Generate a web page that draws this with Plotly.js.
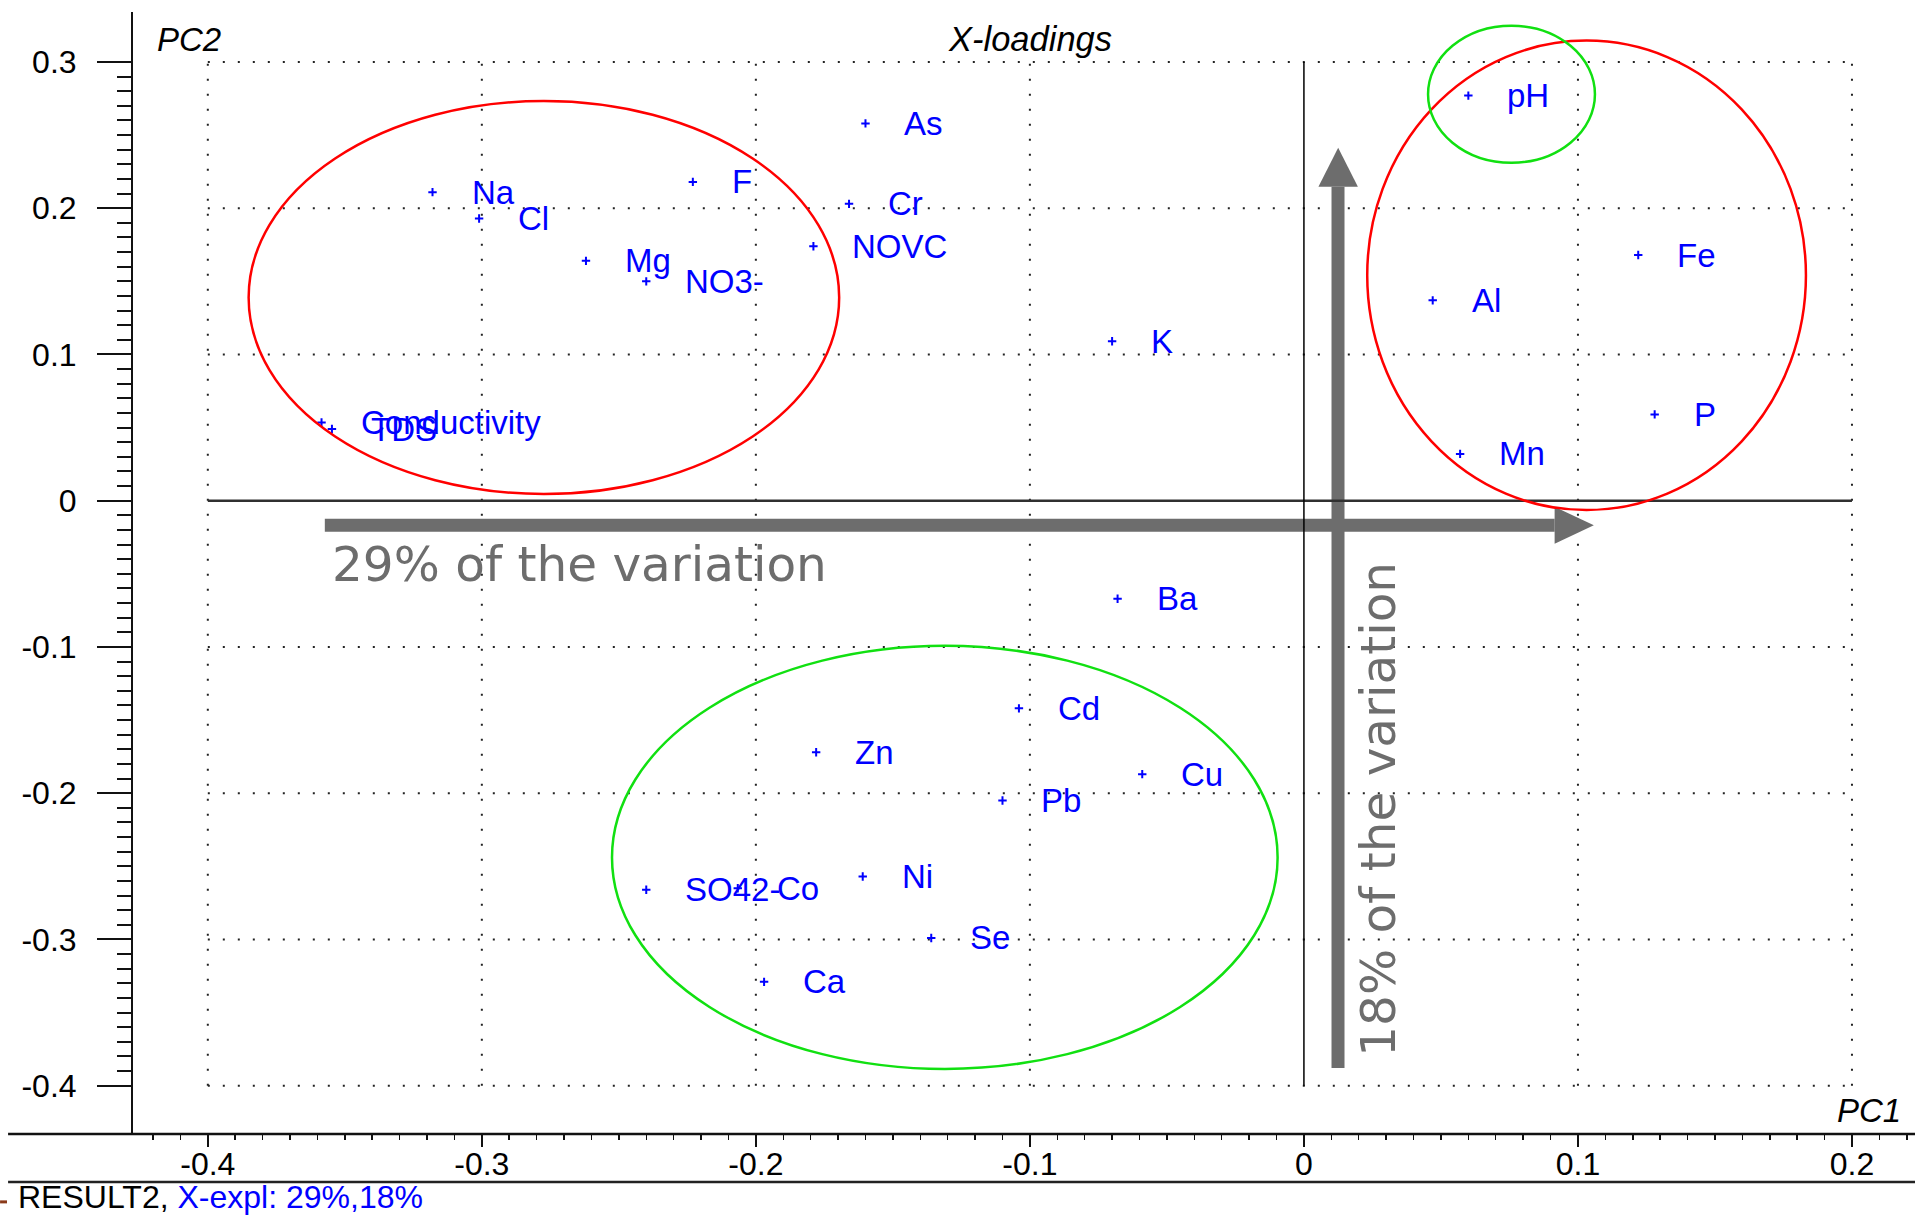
<!DOCTYPE html>
<html>
<head>
<meta charset="utf-8">
<script src="https://cdn.plot.ly/plotly-3.0.1.min.js"></script>
<style>
html,body{margin:0;padding:0;background:#ffffff;}
#chart{width:1915px;height:1218px;}
</style>
</head>
<body>
<div id="chart"></div>
<script>
// ---- data: PCA X-loadings (PC1, PC2) ----
const variables = ['Na','Cl','F','Mg','NO3-','NOVC','Cr','As','Conductivity','TDS','K','Ba','pH','Fe','Al','P','Mn','Cd','Zn','Cu','Pb','Ni','SO42-','Co','Se','Ca'];
const pc1 = [-0.318,-0.301,-0.223,-0.262,-0.240,-0.179,-0.166,-0.160,-0.3585,-0.3547,-0.070,-0.068,0.060,0.122,0.047,0.128,0.057,-0.104,-0.178,-0.059,-0.110,-0.161,-0.240,-0.2066,-0.136,-0.197];
const pc2 = [0.211,0.193,0.218,0.164,0.150,0.174,0.203,0.258,0.0535,0.049,0.109,-0.067,0.277,0.168,0.137,0.059,0.032,-0.142,-0.172,-0.187,-0.205,-0.257,-0.266,-0.265,-0.299,-0.329];

const xTicks = [-0.4,-0.3,-0.2,-0.1,0,0.1,0.2];
const xTickText = ['-0.4','-0.3','-0.2','-0.1','0','0.1','0.2'];
const yTicks = [-0.4,-0.3,-0.2,-0.1,0,0.1,0.2,0.3];
const yTickText = ['-0.4','-0.3','-0.2','-0.1','0','0.1','0.2','0.3'];

const explainedPC1 = '29%';
const explainedPC2 = '18%';

// ---- styling ----
const BLUE = '#0000ff';
const GRAY = '#6d6d6d';
const FONT = 'Liberation Sans, Arial, sans-serif';
const BIGFONT = 'DejaVu Sans, Verdana, sans-serif';

const xRange = [-0.4273, 0.2230];
const yRange = [-0.43305, 0.33417];

// minor ticks (axis decoration)
const yMinor = [];
for (let i = -39; i <= 29; i++) { if (i % 10 !== 0) yMinor.push(i / 100); }

const shapes = [];
// dotted grid
xTicks.filter(v => v !== 0).forEach(v => shapes.push({
  type:'line', xref:'x', yref:'y', x0:v, x1:v, y0:-0.4, y1:0.3, layer:'below',
  line:{color:'#222', width:2, dash:'2px,13px'}
}));
yTicks.filter(v => v !== 0).forEach(v => shapes.push({
  type:'line', xref:'x', yref:'y', x0:-0.4, x1:0.2, y0:v, y1:v, layer:'below',
  line:{color:'#222', width:2, dash:'2px,13px'}
}));
// gray arrows
shapes.push({type:'line', xref:'x', yref:'y', x0:-0.3573, x1:0.0915, y0:-0.0168, y1:-0.0168, layer:'above', line:{color:GRAY, width:13}});
shapes.push({type:'path', xref:'x', yref:'y', layer:'above', fillcolor:GRAY, line:{color:GRAY, width:0},
  path:'M 0.0915,-0.0042 L 0.1058,-0.0168 L 0.0915,-0.0295 Z'});
shapes.push({type:'line', xref:'x', yref:'y', x0:0.01244, x1:0.01244, y0:-0.3879, y1:0.2147, layer:'above', line:{color:GRAY, width:13}});
shapes.push({type:'path', xref:'x', yref:'y', layer:'above', fillcolor:GRAY, line:{color:GRAY, width:0},
  path:'M 0.0053,0.2147 L 0.0125,0.2414 L 0.0197,0.2147 Z'});
// zero lines
shapes.push({type:'line', xref:'x', yref:'y', x0:-0.4, x1:0.2, y0:0, y1:0, layer:'above', line:{color:'#303030', width:2.5}});
shapes.push({type:'line', xref:'x', yref:'y', x0:0, x1:0, y0:-0.4, y1:0.3, layer:'above', line:{color:'#000', width:1.5}});
// grouping ellipses
shapes.push({type:'circle', xref:'x', yref:'y', x0:-0.3851, x1:-0.1696, y0:0.0046, y1:0.2733, layer:'above', line:{color:'#ff0000', width:2.5}});
shapes.push({type:'circle', xref:'x', yref:'y', x0:0.0231, x1:0.1832, y0:-0.0064, y1:0.3146, layer:'above', line:{color:'#ff0000', width:2.5}});
shapes.push({type:'circle', xref:'x', yref:'y', x0:0.0453, x1:0.1062, y0:0.2311, y1:0.3248, layer:'above', line:{color:'#11e011', width:2.5}});
shapes.push({type:'circle', xref:'x', yref:'y', x0:-0.2525, x1:-0.0096, y0:-0.3886, y1:-0.0992, layer:'above', line:{color:'#11e011', width:2.5}});
// frame lines (bottom axis line across the full width and footer separator)
shapes.push({type:'line', xref:'paper', yref:'paper', x0:-0.0701, x1:1, y0:0, y1:0, line:{color:'#111', width:2.5}});
shapes.push({type:'line', xref:'paper', yref:'paper', x0:-0.0701, x1:1, y0:-0.0428, y1:-0.0428, line:{color:'#222', width:2.5}});
shapes.push({type:'line', xref:'paper', yref:'paper', x0:-0.0746, x1:-0.0707, y0:-0.0605, y1:-0.0605, line:{color:'#8b3a1a', width:3}});

const annotations = variables.map((name, i) => ({
  x: pc1[i], y: pc2[i], xref:'x', yref:'y', text: name, showarrow:false,
  xanchor:'left', yanchor:'middle', xshift:37,
  font:{family:FONT, size:33, color:BLUE}
}));
annotations.push({x:-0.3554, y:-0.0433, xref:'x', yref:'y', text: explainedPC1 + ' of the variation', showarrow:false,
  xanchor:'left', yanchor:'middle', font:{family:BIGFONT, size:48.5, color:GRAY}});
annotations.push({x:0.02674, y:-0.2112, xref:'x', yref:'y', text: explainedPC2 + ' of the variation', showarrow:false,
  textangle:-90, xanchor:'center', yanchor:'middle', font:{family:BIGFONT, size:48.5, color:GRAY}});
annotations.push({x:0.0123, y:0.9759, xref:'paper', yref:'paper', text:'PC2', showarrow:false,
  xanchor:'left', yanchor:'middle', font:{family:FONT, size:33, color:'#000', style:'italic'}});
annotations.push({x:0.5034, y:0.9759, xref:'paper', yref:'paper', text:'X-loadings', showarrow:false,
  xanchor:'center', yanchor:'middle', font:{family:FONT, size:34.5, color:'#000', style:'italic'}});
annotations.push({x:0.9935, y:0.0209, xref:'paper', yref:'paper', text:'PC1', showarrow:false,
  xanchor:'right', yanchor:'middle', font:{family:FONT, size:33, color:'#000', style:'italic'}});
annotations.push({x:-0.0656, y:-0.0562, xref:'paper', yref:'paper',
  text:'RESULT2, <span style="color:#0000ff">X-expl: ' + explainedPC1 + ',' + explainedPC2 + '</span>', showarrow:false,
  xanchor:'left', yanchor:'middle', font:{family:FONT, size:32, color:'#000'}});

const trace = {
  type:'scatter', mode:'markers', x: pc1, y: pc2, text: variables,
  marker:{symbol:'cross-thin', size:6, color:BLUE, line:{color:BLUE, width:2}},
  hoverinfo:'text+x+y', showlegend:false
};

const layout = {
  width:1915, height:1218,
  margin:{l:133, r:0, t:12, b:84, pad:0},
  paper_bgcolor:'#ffffff', plot_bgcolor:'#ffffff',
  showlegend:false,
  xaxis:{
    range:xRange, showgrid:false, zeroline:false, showline:false,
    tickmode:'array', tickvals:xTicks, ticktext:xTickText,
    ticks:'outside', ticklen:12, tickwidth:2, tickcolor:'#111',
    minor:{dtick:0.01, tick0:0, ticks:'outside', ticklen:5, tickwidth:1.5, tickcolor:'#111', showgrid:false},
    tickfont:{family:FONT, size:32, color:'#000'}, ticklabelstandoff:-10
  },
  yaxis:{
    range:yRange, showgrid:false, zeroline:false,
    showline:true, linecolor:'#111', linewidth:2,
    tickmode:'array', tickvals:yTicks, ticktext:yTickText,
    ticks:'outside', ticklen:34, tickwidth:2, tickcolor:'#111',
    minor:{tickmode:'array', tickvals:yMinor, ticks:'outside', ticklen:14, tickwidth:2, tickcolor:'#111', showgrid:false},
    tickfont:{family:FONT, size:32, color:'#000'}, ticklabelstandoff:14
  },
  shapes:shapes,
  annotations:annotations
};

Plotly.newPlot('chart', [trace], layout, {displayModeBar:false, staticPlot:true});
</script>
</body>
</html>
